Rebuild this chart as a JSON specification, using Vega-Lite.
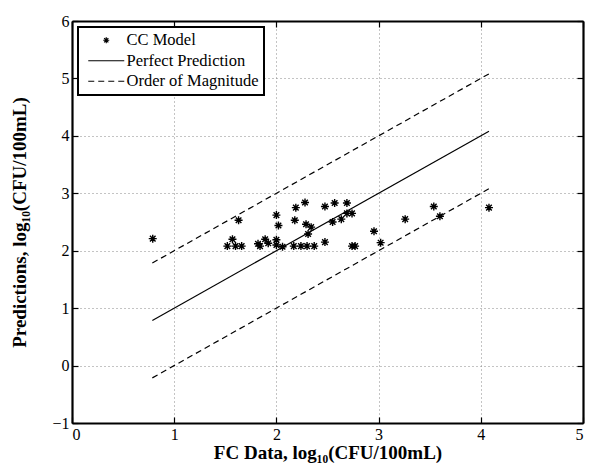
{
  "$schema": "https://vega.github.io/schema/vega-lite/v6.json",
  "autosize": {"type": "none"},
  "width": 511,
  "height": 402,
  "padding": {"left": 72, "top": 21, "right": 6, "bottom": 47},
  "background": "white",
  "config": {
    "view": {"stroke": null},
    "font": "Liberation Serif",
    "legend": {"strokeWidth": 2, "labelFont": "Liberation Serif"},
    "axis": {
      "labelFont": "Liberation Serif",
      "labelFontSize": 16,
      "labelColor": "black",
      "titleFont": "Liberation Serif",
      "titleFontSize": 19,
      "titleFontWeight": "bold",
      "titleColor": "black",
      "domainColor": "black",
      "domainWidth": 2.2,
      "tickColor": "black",
      "tickWidth": 1.2,
      "tickSize": -6,
      "labelPadding": 9,
      "gridColor": "#888888",
      "gridDash": [1, 3],
      "gridWidth": 1
    }
  },
  "datasets": {
    "pts": [
      {"fc": 0.79, "pred": 2.21, "series": "CC Model"},
      {"fc": 1.52, "pred": 2.08, "series": "CC Model"},
      {"fc": 1.57, "pred": 2.20, "series": "CC Model"},
      {"fc": 1.60, "pred": 2.08, "series": "CC Model"},
      {"fc": 1.63, "pred": 2.53, "series": "CC Model"},
      {"fc": 1.66, "pred": 2.08, "series": "CC Model"},
      {"fc": 1.82, "pred": 2.12, "series": "CC Model"},
      {"fc": 1.84, "pred": 2.08, "series": "CC Model"},
      {"fc": 1.89, "pred": 2.20, "series": "CC Model"},
      {"fc": 1.92, "pred": 2.13, "series": "CC Model"},
      {"fc": 2.00, "pred": 2.62, "series": "CC Model"},
      {"fc": 2.02, "pred": 2.44, "series": "CC Model"},
      {"fc": 2.00, "pred": 2.19, "series": "CC Model"},
      {"fc": 2.00, "pred": 2.10, "series": "CC Model"},
      {"fc": 2.06, "pred": 2.07, "series": "CC Model"},
      {"fc": 2.17, "pred": 2.08, "series": "CC Model"},
      {"fc": 2.18, "pred": 2.53, "series": "CC Model"},
      {"fc": 2.19, "pred": 2.75, "series": "CC Model"},
      {"fc": 2.24, "pred": 2.08, "series": "CC Model"},
      {"fc": 2.28, "pred": 2.84, "series": "CC Model"},
      {"fc": 2.29, "pred": 2.46, "series": "CC Model"},
      {"fc": 2.30, "pred": 2.08, "series": "CC Model"},
      {"fc": 2.31, "pred": 2.29, "series": "CC Model"},
      {"fc": 2.34, "pred": 2.41, "series": "CC Model"},
      {"fc": 2.37, "pred": 2.08, "series": "CC Model"},
      {"fc": 2.475, "pred": 2.15, "series": "CC Model"},
      {"fc": 2.475, "pred": 2.77, "series": "CC Model"},
      {"fc": 2.55, "pred": 2.50, "series": "CC Model"},
      {"fc": 2.57, "pred": 2.83, "series": "CC Model"},
      {"fc": 2.635, "pred": 2.55, "series": "CC Model"},
      {"fc": 2.69, "pred": 2.83, "series": "CC Model"},
      {"fc": 2.69, "pred": 2.65, "series": "CC Model"},
      {"fc": 2.74, "pred": 2.65, "series": "CC Model"},
      {"fc": 2.74, "pred": 2.08, "series": "CC Model"},
      {"fc": 2.77, "pred": 2.08, "series": "CC Model"},
      {"fc": 2.955, "pred": 2.34, "series": "CC Model"},
      {"fc": 3.02, "pred": 2.14, "series": "CC Model"},
      {"fc": 3.26, "pred": 2.55, "series": "CC Model"},
      {"fc": 3.54, "pred": 2.77, "series": "CC Model"},
      {"fc": 3.60, "pred": 2.60, "series": "CC Model"},
      {"fc": 4.08, "pred": 2.75, "series": "CC Model"}
    ],
    "perfect": [
      {"fc": 0.786, "pred": 0.786},
      {"fc": 4.08, "pred": 4.08}
    ],
    "order": [
      {"fc": 0.786, "pred": 1.786, "bound": "upper"},
      {"fc": 4.08, "pred": 5.08, "bound": "upper"},
      {"fc": 0.786, "pred": -0.214, "bound": "lower"},
      {"fc": 4.08, "pred": 3.08, "bound": "lower"}
    ]
  },
  "layer": [
    {
      "data": {"name": "perfect"},
      "mark": {"type": "line", "color": "black", "strokeWidth": 1.2},
      "encoding": {
        "x": {"field": "fc", "type": "quantitative",
              "scale": {"domain": [0, 5], "nice": false, "zero": false},
              "axis": {"orient": "top", "labels": false, "grid": false, "title": null, "values": [0, 1, 2, 3, 4, 5]}},
        "y": {"field": "pred", "type": "quantitative",
              "scale": {"domain": [-1, 6], "nice": false, "zero": false},
              "axis": {"orient": "right", "labels": false, "grid": false, "title": null, "values": [-1, 0, 1, 2, 3, 4, 5, 6]}}
      }
    },
    {
      "data": {"name": "order"},
      "mark": {"type": "line", "color": "black", "strokeWidth": 1.2, "strokeDash": [6, 4]},
      "encoding": {
        "x": {"field": "fc", "type": "quantitative", "axis": null},
        "y": {"field": "pred", "type": "quantitative", "axis": null},
        "detail": {"field": "bound", "type": "nominal"}
      }
    },
    {
      "data": {"name": "pts"},
      "mark": {"type": "point", "filled": false, "stroke": "black", "strokeWidth": 1.4, "size": 64, "opacity": 1},
      "encoding": {
        "x": {"field": "fc", "type": "quantitative",
              "axis": {"orient": "bottom", "grid": true, "values": [0, 1, 2, 3, 4, 5],
                       "title": "FC Data, log₁₀(CFU/100mL)", "titleBaseline": "alphabetic", "titleY": 35}},
        "y": {"field": "pred", "type": "quantitative",
              "axis": {"orient": "left", "grid": true, "values": [-1, 0, 1, 2, 3, 4, 5, 6],
                       "title": "Predictions, log₁₀(CFU/100mL)", "titleBaseline": "alphabetic", "titleX": -47}},
        "shape": {
          "field": "series", "type": "nominal",
          "scale": {
            "domain": ["CC Model", "Perfect Prediction", "Order of Magnitude"],
            "range": [
              "M0,-1V1M-1,0H1M-0.7,-0.7L0.7,0.7M-0.7,0.7L0.7,-0.7",
              "M-6,0H6",
              "M-6,0H-4M-2.67,0H-0.67M0.67,0H2.67M4,0H6"
            ]
          },
          "legend": {
            "title": null,
            "orient": "top-left",
            "offset": 6,
            "strokeColor": "black",
            "fillColor": "white",
            "padding": 5,
            "rowPadding": 3.5,
            "symbolSize": 36,
            "symbolOffset": 15,
            "symbolStrokeColor": "black",
            "symbolFillColor": "transparent",
            "symbolStrokeWidth": 1.2,
            "labelOffset": 12,
            "labelFont": "Liberation Serif",
            "labelFontSize": 16.5,
            "labelColor": "black",
            "values": ["CC Model", "Perfect Prediction", "Order of Magnitude"],
            "encode": {
              "legend": {"update": {"strokeWidth": {"value": 2}}},
              "labels": {"update": {"font": {"value": "Liberation Serif"}, "fontSize": {"value": 16.5}}}
            }
          }
        }
      }
    }
  ],
  "resolve": {"axis": {"x": "independent", "y": "independent"}}
}
